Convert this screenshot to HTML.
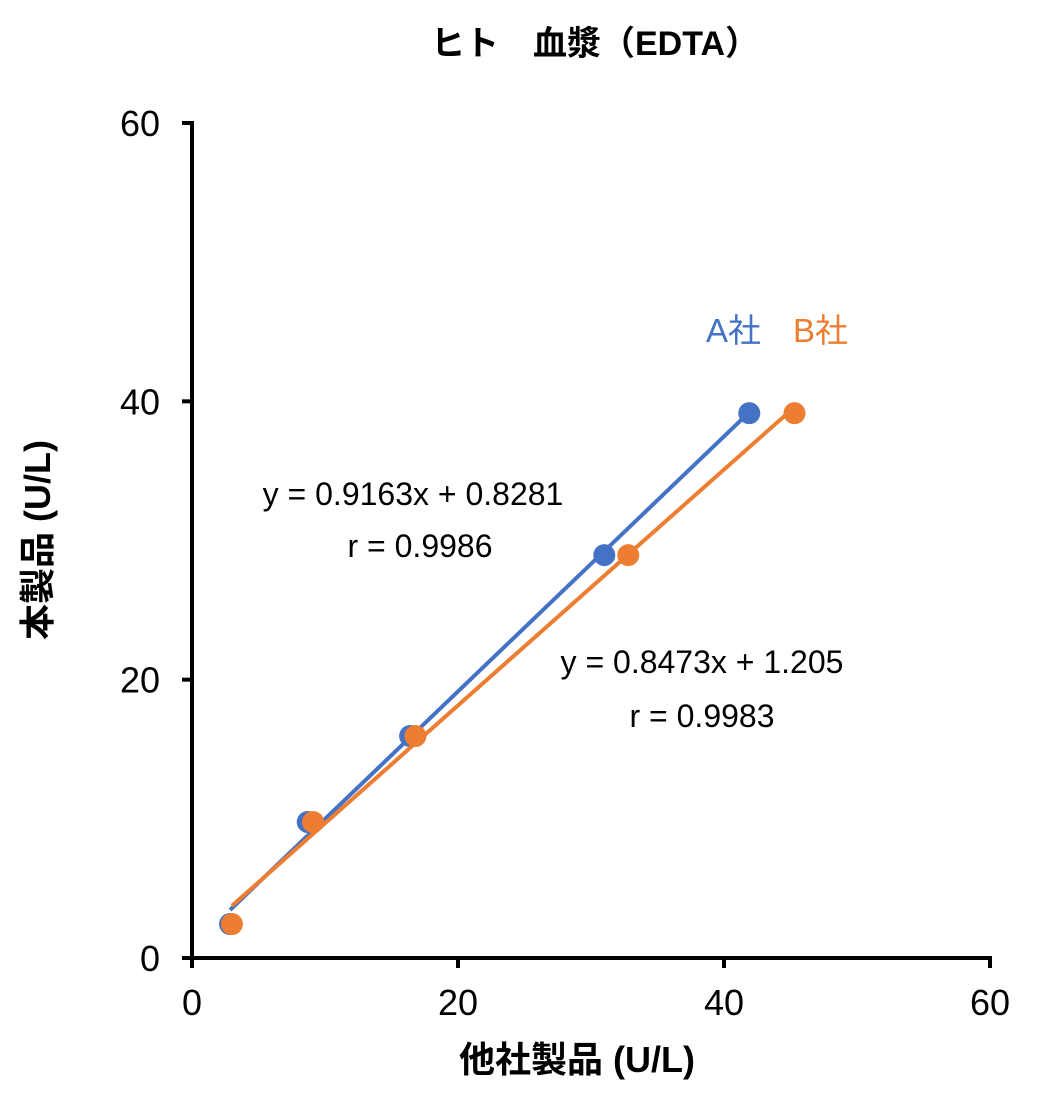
<!DOCTYPE html>
<html><head><meta charset="utf-8"><style>
body{margin:0;background:#fff;}
svg text{font-family:"Liberation Sans","Noto Sans CJK JP",sans-serif;}
</style></head><body>
<svg id="chart" width="1040" height="1100">
<text x="595" y="55" font-size="34" font-weight="bold" text-anchor="middle">ヒト　血漿（EDTA）</text>
<g id="axes"></g>
<g id="marks"></g>
<text x="577" y="1072" font-size="36" font-weight="bold" text-anchor="middle">他社製品 (U/L)</text>
<text transform="translate(50,540) rotate(-90)" font-size="36" font-weight="bold" text-anchor="middle">本製品 (U/L)</text>
<text x="706" y="342" font-size="33" fill="#4472C4">A社</text>
<text x="793" y="342" font-size="33" fill="#ED7D31">B社</text>
<text x="413" y="505" font-size="32" text-anchor="middle">y = 0.9163x + 0.8281</text>
<text x="420" y="557" font-size="32" text-anchor="middle">r = 0.9986</text>
<text x="702" y="673" font-size="32" text-anchor="middle">y = 0.8473x + 1.205</text>
<text x="702" y="727" font-size="32" text-anchor="middle">r = 0.9983</text>
</svg>
<script>
const xTicks=[0,20,40,60];
const yTicks=[0,20,40,60];
const aX=[2.86,8.7,16.4,31.0,41.9];
const aY=[2.44,9.77,15.95,28.95,39.15];
const bX=[3.0,9.1,16.8,32.8,45.3];
const bY=[2.44,9.77,15.95,28.95,39.15];
const aFit=[0.9163,0.8281];
const bFit=[0.8473,1.205];
const ns='http://www.w3.org/2000/svg';
const sx=v=>192+v*(990-192)/60;
const sy=v=>958-v*(958-123)/60;
function mk(p,t,a){const e=document.createElementNS(ns,t);for(const k in a)e.setAttribute(k,a[k]);p.appendChild(e);return e;}
const ax=document.getElementById('axes'),mg=document.getElementById('marks');
let l=mk(ax,'line',{x1:sx(0)-2,y1:sy(0),x2:sx(60)+2,y2:sy(0),stroke:'#000','stroke-width':4});


l=mk(ax,'line',{x1:sx(0),y1:sy(0)+2,x2:sx(0),y2:sy(60)-2,stroke:'#000','stroke-width':4});


xTicks.forEach(v=>{
 const t=mk(ax,'line',{x1:sx(v),y1:sy(0),x2:sx(v),y2:sy(0)+10,stroke:'#000','stroke-width':4});
 
 
 const tx=mk(ax,'text',{x:sx(v),y:1015,'font-size':36,'text-anchor':'middle'});tx.textContent=v;
 
 
});
yTicks.forEach(v=>{
 const t=mk(ax,'line',{x1:sx(0)-10,y1:sy(v),x2:sx(0),y2:sy(v),stroke:'#000','stroke-width':4});
 
 
 const tx=mk(ax,'text',{x:160,y:sy(v)+13,'font-size':36,'text-anchor':'end'});tx.textContent=v;
 
 
});
function series(X,Y,fit,c,name){
 const x0=Math.min(...X),x1=Math.max(...X);
 const ln=mk(mg,'line',{x1:sx(x0),y1:sy(fit[0]*x0+fit[1]),x2:sx(x1),y2:sy(fit[0]*x1+fit[1]),stroke:c,'stroke-width':4});
 
 
 X.forEach((x,i)=>{
  const p=mk(mg,'circle',{cx:sx(x),cy:sy(Y[i]),r:11,fill:c});
  
  
 });
}
series(aX,aY,aFit,'#4472C4','company-a');
series(bX,bY,bFit,'#ED7D31','company-b');
</script>
</body></html>
